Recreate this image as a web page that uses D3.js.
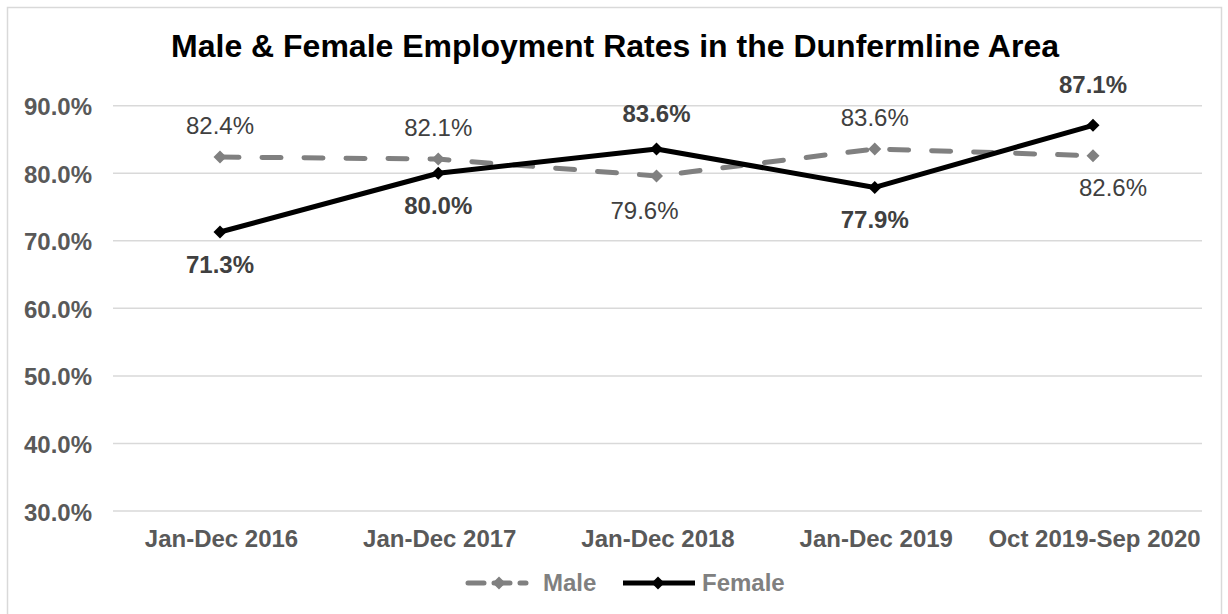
<!DOCTYPE html>
<html><head><meta charset="utf-8">
<script src="https://cdn.jsdelivr.net/npm/d3@7"></script>
<style>body{margin:0;background:#fff}svg{display:block}text{font-family:"Liberation Sans",Arial,sans-serif}</style>
</head><body>
<script>
const categories = ["Jan-Dec 2016","Jan-Dec 2017","Jan-Dec 2018","Jan-Dec 2019","Oct 2019-Sep 2020"];
const maleValues = [82.4, 82.1, 79.6, 83.6, 82.6];
const femaleValues = [71.3, 80.0, 83.6, 77.9, 87.1];
const yTicks = [30, 40, 50, 60, 70, 80, 90];
const malePlacement = ["above","above","below","above","below"];
const femalePlacement = ["below","below","above","below","above"];

const W = 1228, H = 614;
const FONT = "'Liberation Sans',Arial,sans-serif";
const svg = d3.select("body").append("svg").attr("width", W).attr("height", H);
svg.append("rect").attr("x",7.5).attr("y",7.5).attr("width",1214).attr("height",620)
  .attr("fill","#fff").attr("stroke","#d9d9d9").attr("stroke-width",1.5);

const x = d3.scalePoint().domain(categories).range([220, 1093]);
const y = d3.scaleLinear().domain([30, 90]).range([511, 105.7]);
const gx0 = 113, gx1 = 1202;

svg.append("text").attr("x", 615).attr("y", 57).attr("text-anchor","middle")
  .attr("font-size", 32).attr("font-weight","bold").attr("fill","#000")
  .text("Male & Female Employment Rates in the Dunfermline Area");

svg.append("g").selectAll("line").data(yTicks).join("line")
  .attr("x1", gx0).attr("x2", gx1).attr("y1", d => y(d)).attr("y2", d => y(d))
  .attr("stroke", "#d9d9d9").attr("stroke-width", 1.5);

const yAxis = d3.axisLeft(y).tickValues(yTicks).tickFormat(d => d.toFixed(1) + "%").tickSize(0).tickPadding(0);
const ya = svg.append("g").attr("transform", "translate(92,0)").call(yAxis);
ya.select(".domain").remove();
ya.selectAll("text").attr("font-size", 24).attr("font-weight","bold").attr("fill","#595959")
  .attr("font-family", FONT).attr("dy", 9);

const xAxis = d3.axisBottom(x).tickSize(0).tickPadding(0);
const xa = svg.append("g").attr("transform", "translate(1,547)").call(xAxis);
xa.select(".domain").remove();
xa.selectAll("text").attr("font-size", 24).attr("font-weight","bold").attr("fill","#595959")
  .attr("font-family", FONT).attr("dy", 0);

const line = d3.line().x((d,i) => x(categories[i])).y(d => y(d));
const diamondPath = "M0,-6.5L6.5,0L0,6.5L-6.5,0Z";

function drawSeries(vals, color, dash, bold, placement, nudge) {
  const g = svg.append("g");
  g.append("path").datum(vals).attr("d", line).attr("fill","none").attr("stroke", color)
    .attr("stroke-width", 5).attr("stroke-dasharray", dash).attr("stroke-linejoin","round")
    .attr("stroke-linecap", dash ? "round" : "butt");
  g.selectAll("path.m").data(vals).join("path").attr("class","m")
    .attr("transform", (d,i) => `translate(${x(categories[i])},${y(d)})`)
    .attr("d", diamondPath).attr("fill", color);
  g.selectAll("text").data(vals).join("text")
    .attr("x", (d,i) => x(categories[i]) + ((nudge[i] || {}).dx || 0))
    .attr("y", (d,i) => y(d) + (placement[i] === "above" ? (bold ? -27 : -23) : (bold ? 41 : 43)) + ((nudge[i] || {}).dy || 0))
    .attr("text-anchor","middle").attr("font-size", 24)
    .attr("font-weight", bold ? "bold" : "normal").attr("fill","#404040")
    .text(d => d.toFixed(1) + "%");
}
drawSeries(maleValues, "#808080", "19,23", false, malePlacement, {2:{dx:-12}, 4:{dx:20,dy:-3}});
drawSeries(femaleValues, "#000000", null, true, femalePlacement, {4:{dy:-5}});

// legend
const lg = svg.append("g").attr("transform","translate(0,583)");
lg.append("line").attr("x1",468).attr("x2",526).attr("y1",0).attr("y2",0)
  .attr("stroke","#808080").attr("stroke-width",5).attr("stroke-dasharray","16,10").attr("stroke-linecap","round");
lg.append("path").attr("transform","translate(499,0)").attr("d",diamondPath).attr("fill","#808080");
lg.append("text").attr("x",543).attr("y",591-583).attr("font-size",24).attr("font-weight","bold").attr("fill","#808080").text("Male");
lg.append("line").attr("x1",623).attr("x2",695).attr("y1",0).attr("y2",0)
  .attr("stroke","#000").attr("stroke-width",5);
lg.append("path").attr("transform","translate(658,0)").attr("d",diamondPath).attr("fill","#000");
lg.append("text").attr("x",702).attr("y",591-583).attr("font-size",24).attr("font-weight","bold").attr("fill","#808080").text("Female");
</script>
</body></html>
